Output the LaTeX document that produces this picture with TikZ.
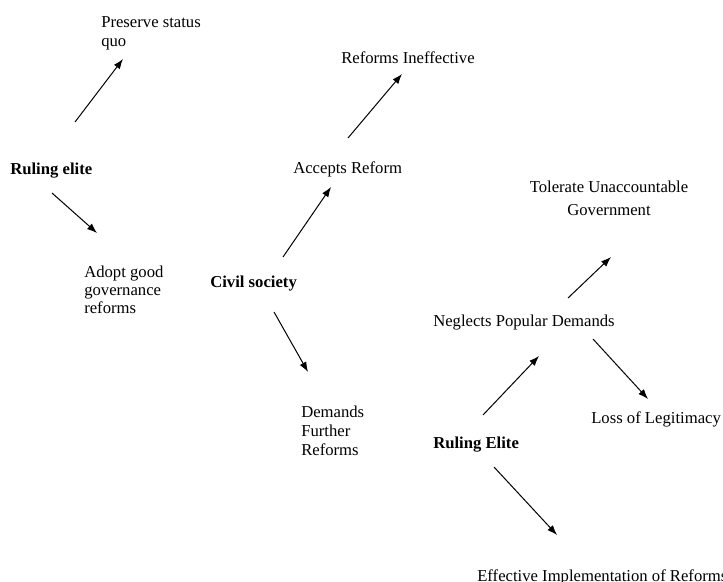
\documentclass[tikz,border=0pt]{standalone}
\usepackage{fontspec}
\setmainfont{Liberation Serif}
\usetikzlibrary{arrows.meta}
\begin{document}
\begin{tikzpicture}[x=0.75pt,y=-0.75pt,
  lbl/.style={anchor=west,inner sep=0pt,align=left,font=\fontsize{12.5}{13.5}\selectfont},
  boldlbl/.style={anchor=west,inner sep=0pt,font=\fontsize{12.5}{15}\selectfont\bfseries},
  arr/.style={-{Latex[length=7.5pt,width=5.5pt]},line width=0.75pt}]
\useasboundingbox (0,0) rectangle (723,581);
\clip (0,0) rectangle (723,581);
% nodes
\node[lbl,font=\fontsize{12.5}{14.25}\selectfont] (pres) at (101,33) {Preserve status\\quo};
\node[boldlbl] (re1) at (10,171) {Ruling elite};
\node[lbl] (adopt) at (84,290) {Adopt good\\governance\\reforms};
\node[boldlbl] (civ) at (210,284) {Civil society};
\node[lbl] (acc) at (293,169) {Accepts Reform};
\node[lbl] (ineff) at (341,58) {Reforms Ineffective};
\node[lbl,anchor=center,align=center,font=\fontsize{12.5}{17.25}\selectfont] (tol) at (609,198) {Tolerate Unaccountable\\Government};
\node[lbl] (negl) at (433,323) {Neglects Popular Demands};
\node[lbl] (loss) at (591,419) {Loss of Legitimacy};
\node[boldlbl] (re2) at (433,445) {Ruling Elite};
\node[lbl,font=\fontsize{12.5}{14.25}\selectfont] (dem) at (301,431) {Demands\\Further\\Reforms};
\node[lbl] (eff) at (477,577) {Effective Implementation of Reforms};
% connector ends
\coordinate (a1s) at (75,122);  \coordinate (a1e) at (123,59);
\coordinate (a2s) at (52,193);  \coordinate (a2e) at (97,233);
\coordinate (a3s) at (283,257); \coordinate (a3e) at (331,187);
\coordinate (a4s) at (348,138); \coordinate (a4e) at (402,74);
\coordinate (a5s) at (274,312); \coordinate (a5e) at (308,372);
\coordinate (a6s) at (568,298); \coordinate (a6e) at (611,257);
\coordinate (a7s) at (593,339); \coordinate (a7e) at (648,399);
\coordinate (a8s) at (483,415); \coordinate (a8e) at (539,356);
\coordinate (a9s) at (494,467); \coordinate (a9e) at (557,535);
% connectors
\draw[arr] (a1s) -- (a1e);
\draw[arr] (a2s) -- (a2e);
\draw[arr] (a3s) -- (a3e);
\draw[arr] (a4s) -- (a4e);
\draw[arr] (a5s) -- (a5e);
\draw[arr] (a6s) -- (a6e);
\draw[arr] (a7s) -- (a7e);
\draw[arr] (a8s) -- (a8e);
\draw[arr] (a9s) -- (a9e);
\end{tikzpicture}
\end{document}
